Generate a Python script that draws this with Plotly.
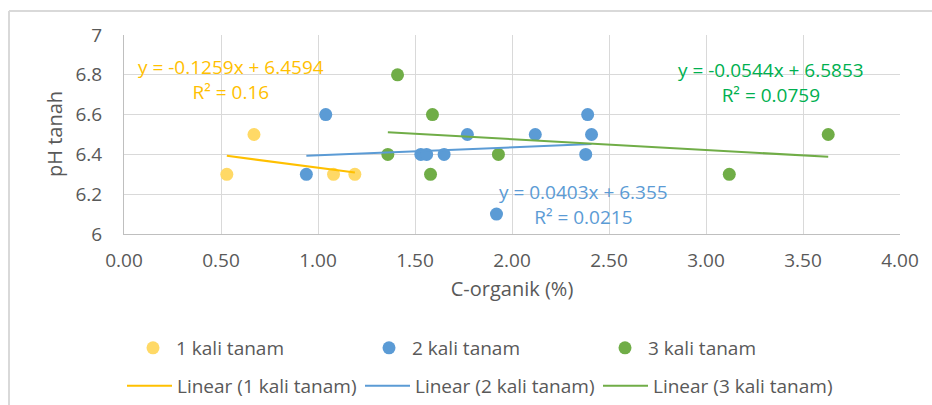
import plotly.graph_objects as go

# ---- data ----
x1 = [0.53, 0.67, 1.08, 1.19]
y1 = [6.3, 6.5, 6.3, 6.3]

x2 = [0.94, 1.04, 1.53, 1.56, 1.65, 1.77, 1.92, 2.12, 2.38, 2.39, 2.41]
y2 = [6.3, 6.6, 6.4, 6.4, 6.4, 6.5, 6.1, 6.5, 6.4, 6.6, 6.5]

x3 = [1.36, 1.41, 1.58, 1.59, 1.93, 3.12, 3.63]
y3 = [6.4, 6.8, 6.3, 6.6, 6.4, 6.3, 6.5]

names = ["1 kali tanam", "2 kali tanam", "3 kali tanam"]
slopes = [-0.1259, 0.0403, -0.0544]
intercepts = [6.4594, 6.355, 6.5853]
eq_texts = ["y = -0.1259x + 6.4594<br>R² = 0.16",
            "y = 0.0403x + 6.355<br>R² = 0.0215",
            "y = -0.0544x + 6.5853<br>R² = 0.0759"]

x_ticks = [0, 0.5, 1, 1.5, 2, 2.5, 3, 3.5, 4]
y_ticks = [6, 6.2, 6.4, 6.6, 6.8, 7]

# ---- styles ----
marker_colors = ["#FFD966", "#5B9BD5", "#70AD47"]
line_colors = ["#FFC000", "#5B9BD5", "#70AD47"]
text_colors = ["#FFC000", "#5B9BD5", "#00B050"]
eq_pos = [(0.552, 6.776), (2.366, 6.147), (3.335, 6.762)]
FONT = "Open Sans"
GRAY = "#595959"
FS = 19

fig = go.Figure()
xs = [x1, x2, x3]
ys = [y1, y2, y3]
for i in range(3):
    fig.add_trace(go.Scatter(
        x=xs[i], y=ys[i], mode="markers", name=names[i],
        marker=dict(color=marker_colors[i], size=13),
        legend="legend", cliponaxis=False))
for i in range(3):
    lo, hi = min(xs[i]), max(xs[i])
    fig.add_trace(go.Scatter(
        x=[lo, hi], y=[slopes[i] * lo + intercepts[i], slopes[i] * hi + intercepts[i]],
        mode="lines", name="Linear (" + names[i] + ")",
        line=dict(color=line_colors[i], width=2),
        legend="legend2"))

for i in range(3):
    fig.add_annotation(x=eq_pos[i][0], y=eq_pos[i][1], xref="x", yref="y",
                       text=eq_texts[i], showarrow=False, align="center",
                       font=dict(family=FONT, size=FS, color=text_colors[i]))

W, H = 932, 405
L, R, T, B = 124, 32, 35, 171
pw, ph = W - L - R, H - T - B

def px_to_paper_x(p):
    return (p - L) / pw

def px_to_paper_y(p):
    return (H - B - p) / ph

# y-axis title placed as rotated text
fig.add_annotation(x=px_to_paper_x(54), y=px_to_paper_y(134), xref="paper", yref="paper",
                   text="pH tanah", textangle=-90, showarrow=False,
                   xanchor="center", yanchor="middle",
                   font=dict(family=FONT, size=20, color=GRAY))

# outer chart-area border (left and top edges visible)
fig.add_shape(type="line", xref="paper", yref="paper",
              x0=px_to_paper_x(9), x1=px_to_paper_x(9),
              y0=px_to_paper_y(11), y1=px_to_paper_y(410),
              line=dict(color="#D9D9D9", width=2))
fig.add_shape(type="line", xref="paper", yref="paper",
              x0=px_to_paper_x(9), x1=px_to_paper_x(940),
              y0=px_to_paper_y(11), y1=px_to_paper_y(11),
              line=dict(color="#D9D9D9", width=2))

fig.update_layout(
    width=W, height=H,
    margin=dict(l=L, r=R, t=T, b=B),
    paper_bgcolor="white", plot_bgcolor="white",
    font=dict(family=FONT, size=FS, color=GRAY),
    xaxis=dict(range=[0, 4], tickvals=x_ticks, tickformat=".2f",
               showgrid=True, gridcolor="#D9D9D9", gridwidth=1,
               showline=True, linecolor="#BFBFBF", linewidth=1,
               zeroline=False, ticks="", ticklabelstandoff=9,
               tickfont=dict(family=FONT, size=FS, color=GRAY),
               title=dict(text="C-organik (%)", standoff=10,
                          font=dict(family=FONT, size=20, color=GRAY))),
    yaxis=dict(range=[6, 7], tickvals=y_ticks,
               showgrid=True, gridcolor="#D9D9D9", gridwidth=1,
               showline=True, linecolor="#BFBFBF", linewidth=1,
               zeroline=False, ticks="", ticklabelstandoff=17,
               tickfont=dict(family=FONT, size=FS, color=GRAY)),
    showlegend=True,
    legend=dict(orientation="h", xref="container", yref="container",
                x=130 / W, y=1 - 348 / H, xanchor="left", yanchor="middle",
                entrywidth=185, entrywidthmode="pixels", itemwidth=36,
                bgcolor="rgba(0,0,0,0)", font=dict(family=FONT, size=FS, color=GRAY)),
    legend2=dict(orientation="h", xref="container", yref="container",
                 x=122 / W, y=1 - 386 / H, xanchor="left", yanchor="middle",
                 entrywidth=178, entrywidthmode="pixels", itemwidth=45,
                 bgcolor="rgba(0,0,0,0)", font=dict(family=FONT, size=FS, color=GRAY)),
)

fig.write_html("out.html")
